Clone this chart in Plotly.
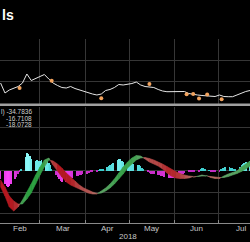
import plotly.graph_objects as go
import pandas as pd

# ---------------- data ----------------
line_dates = pd.date_range("2018-02-02", periods=58, freq="3D")

price = [99.52, 97.14, 97.86, 98.33, 98.69, 99.52, 101.67, 100.12, 100.60, 100.95,
         101.55, 100.48, 99.52, 98.93, 98.45, 98.33, 98.69, 98.21, 97.86, 97.50,
         97.21, 96.90, 96.67, 96.90, 97.74, 97.98, 98.45, 99.17, 99.05, 99.17,
         99.40, 99.76, 99.05, 98.69, 98.57, 98.45, 97.98, 97.62, 97.45, 97.50,
         97.45, 97.62, 97.50, 97.02, 96.79, 96.67, 96.55, 96.43, 96.31, 96.31,
         96.67, 96.31, 96.26, 96.26, 96.67, 97.14, 97.50, 97.74]

macd = [-16.3, -25.3, -36.3, -40.3, -36.3, -29.3, -21.3, -13.3, -4.3, 3.7,
        10.7, 12.7, 5.7, -0.3, -6.3, -11.3, -14.3, -16.3, -18.3, -20.3,
        -22.3, -23.3, -23.3, -20.3, -17.3, -13.3, -8.3, -2.3, 3.7, 8.7,
        12.7, 15.2, 14.7, 11.7, 8.7, 6.7, 4.7, 1.7, -2.3, -5.3,
        -7.3, -7.8, -7.8, -7.3, -6.3, -5.6, -4.3, -4.8, -6.8, -7.8,
        -7.8, -5.3, -3.3, -1.8, -0.3, 3.7, 6.7, 9.7]

signal = [-9.3, -16.3, -25.3, -30.3, -33.3, -33.3, -28.3, -22.3, -13.3, -4.3,
          3.7, 10.7, 9.7, 6.7, 2.7, -2.3, -6.3, -10.3, -14.3, -17.3,
          -19.3, -21.3, -22.8, -22.3, -20.3, -17.3, -13.3, -8.3, -3.3, 2.7,
          6.7, 10.7, 12.7, 13.2, 12.2, 10.7, 8.7, 6.7, 4.2, 1.7,
          -0.8, -2.8, -4.3, -5.3, -5.8, -5.8, -5.3, -5.3, -5.8, -6.3,
          -6.8, -6.8, -5.8, -4.3, -2.8, -0.8, 1.7, 4.7]

hist_dates = pd.bdate_range("2018-02-02", "2018-07-23")
hist = [-8,
        -13, -15, -16, -15, -13,
        -8, -6, -3, -1, 2,
        14, 18, 17, 15, 12,
        10, 10.5, 10, 10, 10.5,
        11, 10, 8, 5.5, 1.5,
        -4, -6, -8, -10, -11,
        -11.5, -11, -10, -8.5, -7.5,
        -5.5, -5, -4.5, -4, -3.5,
        -3, -2.5, -2, -1.5, -1.2,
        -0.5, 0.5, 1, 1.5, 2,
        4, 5, 6, 7, 7.5,
        11, 12, 11.5, 10, 9,
        8, 8.5, 8, 7.5, 7,
        6, 5.5, 4.5, 3, 1.5,
        -1.5, -2.5, -3, -3, -3.5,
        -4, -4.5, -5, -5.5, -6,
        -7, -7.5, -7.5, -7, -6.5,
        -5, -4, -3.5, -3, -2.5,
        -1.5, -1.5, -1, -1, -0.8,
        -0.5, 1.5, 2.5, 2.5, 2,
        0.5, -1, -1.5, -1.5, -1,
        -0.5, 1.5, 2.5, 3, 3.5,
        3.5, 3, 2.5, 2, 2,
        4, 5.5, 7, 8, 9,
        10]

event_dates = ["2018-02-15", "2018-03-09", "2018-04-12", "2018-05-15",
               "2018-06-09 12:00", "2018-06-14", "2018-06-18",
               "2018-06-23 14:00", "2018-07-03 12:00"]
event_price = [98.33, 100.07, 95.88, 99.29, 96.83, 96.90, 95.83, 96.79, 95.64]

month_labels = ["Feb", "Mar", "Apr", "May", "Jun", "Jul"]
month_mid = ["2018-02-15", "2018-03-16 12:00", "2018-04-16", "2018-05-16 12:00",
             "2018-06-16", "2018-07-16 12:00"]

legend_lines = ["l) -34.7836", "-16.7108", "-18.0728"]
title_text = "ls"
year_label = "2018"

# ---------------- style ----------------
W, H = 250, 242
GRID = "#363636"
FONT = "Liberation Sans"
XR = ["2018-02-01 14:10", "2018-07-22 22:20"]


def py(px):
    return 1 - px / H


def mix(c0, c1, m):
    c = [round(a + (b - a) * m) for a, b in zip(c0, c1)]
    return f"rgb({c[0]},{c[1]},{c[2]})"


def ribbon_color(d):
    m = min(abs(d) / 8.0, 1.0)
    if d >= 0:
        return mix((110, 165, 115), (45, 160, 65), m)
    return mix((180, 120, 110), (180, 25, 32), m)


def bar_color(v):
    m = min(abs(v) / 16.0, 1.0)
    if v >= 0:
        return mix((50, 200, 200), (140, 250, 250), m)
    return mix((190, 40, 190), (250, 70, 250), m)


fig = go.Figure()

# histogram
fig.add_trace(go.Bar(
    x=hist_dates, y=hist, marker_color=[bar_color(v) for v in hist],
    marker_line_width=0, width=0.45 * 86400000,
    xaxis="x", yaxis="y", hoverinfo="skip", showlegend=False))

# ribbon between MACD and signal
xs = list(line_dates)
for i in range(len(xs) - 1):
    d0 = macd[i] - signal[i]
    d1 = macd[i + 1] - signal[i + 1]
    if d0 * d1 < 0:
        t = d0 / (d0 - d1)
        xc = xs[i] + (xs[i + 1] - xs[i]) * t
        yc = macd[i] + (macd[i + 1] - macd[i]) * t
        polys = [([xs[i], xc, xs[i]], [macd[i], yc, signal[i]], d0),
                 ([xc, xs[i + 1], xs[i + 1]], [yc, macd[i + 1], signal[i + 1]], d1)]
    else:
        polys = [([xs[i], xs[i + 1], xs[i + 1], xs[i]],
                  [macd[i], macd[i + 1], signal[i + 1], signal[i]], (d0 + d1) / 2)]
    for pxs, pys, d in polys:
        col = ribbon_color(d)
        fig.add_trace(go.Scatter(
            x=pxs + [pxs[0]], y=pys + [pys[0]], mode="lines", fill="toself",
            fillcolor=col, line=dict(width=0.6, color=col),
            xaxis="x", yaxis="y", hoverinfo="skip", showlegend=False))

# price line
fig.add_trace(go.Scatter(
    x=line_dates, y=price, mode="lines", line=dict(color="#e6e6e6", width=1),
    xaxis="x2", yaxis="y2", hoverinfo="skip", showlegend=False))
fig.add_trace(go.Scatter(
    x=event_dates, y=event_price, mode="markers",
    marker=dict(color="#f2a35e", size=4, line=dict(width=0)),
    xaxis="x2", yaxis="y2", hoverinfo="skip", showlegend=False))

annotations = [
    dict(text=f"<b>{title_text}</b>", x=0, y=py(15), xref="paper", yref="paper",
         xanchor="left", yanchor="middle", showarrow=False,
         font=dict(family=FONT, size=14, color="white")),
    dict(text=year_label, x=128 / W, y=py(236.5), xref="paper", yref="paper",
         xanchor="center", yanchor="middle", showarrow=False,
         font=dict(family=FONT, size=8, color="#c8c8c8")),
]
for txt, xd in zip(month_labels, month_mid):
    annotations.append(dict(text=txt, x=xd, y=py(228.3), xref="x", yref="paper",
                            xanchor="center", yanchor="middle", showarrow=False,
                            font=dict(family=FONT, size=8, color="#c8c8c8")))
for txt, ypx in zip(legend_lines, [112.5, 118.7, 125]):
    annotations.append(dict(text=txt, x=34 / W, y=py(ypx), xref="paper", yref="paper",
                            xanchor="right", yanchor="middle", showarrow=False,
                            font=dict(family=FONT, size=6.5, color="#d0d0d0")))

fig.update_layout(
    width=W, height=H, margin=dict(l=0, r=0, t=0, b=0),
    paper_bgcolor="black", plot_bgcolor="black", showlegend=False, bargap=0,
    xaxis=dict(domain=[0, 1], anchor="y", type="date", range=XR, dtick="M1",
               tick0="2018-01-01", showticklabels=False,
               ticks="inside", ticklen=3, tickcolor="#8a8a8a", showline=True,
               linecolor="#8a8a8a", linewidth=1, showgrid=True, gridcolor=GRID,
               gridwidth=1, zeroline=False),
    xaxis2=dict(domain=[0, 1], anchor="y2", type="date", range=XR, dtick="M1",
                tick0="2018-01-01", matches="x", showticklabels=False, ticks="",
                showline=False, showgrid=True, gridcolor=GRID, gridwidth=1,
                zeroline=False),
    yaxis=dict(domain=[py(223), py(107)], range=[-52.3, 63.7],
               tickvals=[-43, -21.5, 0, 21.5, 43], showticklabels=False, ticks="",
               showgrid=True, gridcolor=GRID, gridwidth=1, zeroline=False),
    yaxis2=dict(domain=[py(104), py(39)], range=[94.524, 110],
                tickvals=[100, 105, 110], showticklabels=False, ticks="",
                showgrid=True, gridcolor=GRID, gridwidth=1, zeroline=False),
    shapes=[dict(type="rect", xref="paper", yref="paper", x0=0, x1=1,
                 y0=py(106), y1=py(103.5), fillcolor="#a0a0a0",
                 line=dict(width=0), layer="above")],
    annotations=annotations,
)

fig.write_html("out.html")
